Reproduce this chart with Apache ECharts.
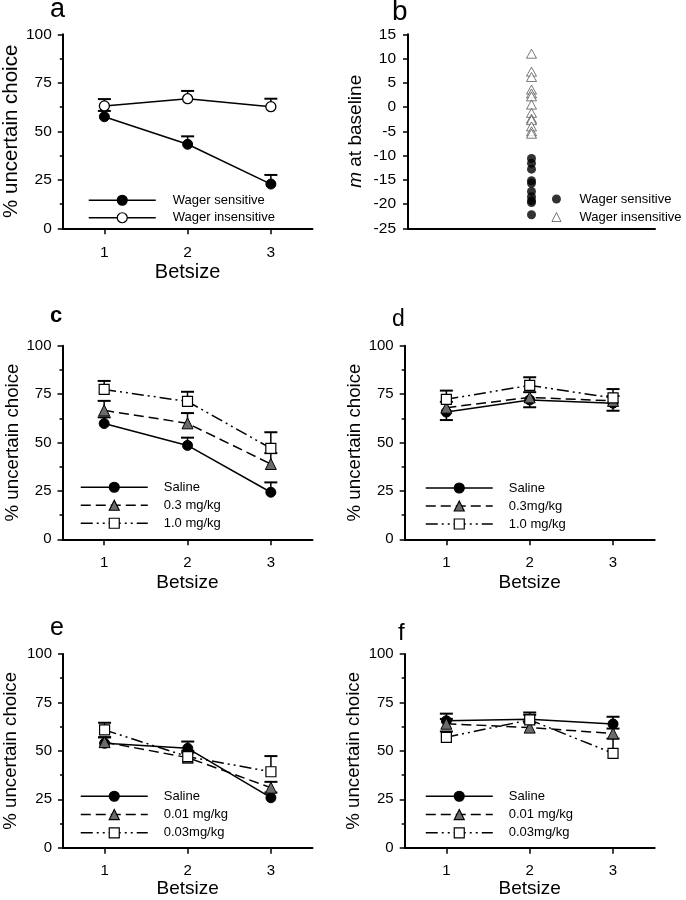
<!DOCTYPE html>
<html><head><meta charset="utf-8">
<script src="https://cdn.jsdelivr.net/npm/echarts@6/dist/echarts.min.js"></script>
<style>html,body{margin:0;padding:0;background:#fff}#c{width:686px;height:900px}</style>
</head><body><div id="c"></div>
<script>
const FONT = '"Liberation Sans", Arial, sans-serif';
const betsizes = ['1', '2', '3'];

// Panel a
const aSensitive = [57.5, 43.3, 22.8];
const aSensitiveErr = [60.5, 47.4, 27.5];
const aInsensitive = [63.1, 66.8, 62.7];
const aInsensitiveErr = [66.6, 70.8, 66.8];

// Panel b (m at baseline)
const bInsensitive = [11.0, 7.3, 6.2, 3.6, 2.8, 2.2, 0.5, -1.2, -2.4, -2.7, -4.0, -5.0, -5.5];
const bSensitive = [-10.6, -11.6, -12.8, -15.2, -15.7, -17.4, -18.5, -19.3, -19.7, -22.2];

// Panel c
const cSaline = [59.8, 48.5, 24.3];
const cSalineErr = [63.0, 52.5, 29.4];
const cLow = [66.6, 59.9, 38.9];
const cLowErr = [71.5, 65.2, 44.5];
const cHigh = [77.4, 71.2, 47.0];
const cHighErr = [81.8, 76.2, 55.3];

// Panel d
const dSaline = [65.7, 72.0, 70.3];
const dSalineErr = [61.6, 68.2, 66.4];
const dLow = [68.0, 73.3, 71.5];
const dLowErr = [71.0, 76.0, 74.0];
const dHigh = [72.3, 79.5, 73.0];
const dHighErr = [76.8, 83.7, 77.6];

// Panel e
const eSaline = [53.9, 51.3, 25.8];
const eSalineErr = [57.0, 54.8, 28.5];
const eLow = [54.5, 46.5, 31.0];
const eLowErr = [57.0, 49.0, 34.0];
const eHigh = [60.8, 47.0, 39.2];
const eHighErr = [64.5, 50.0, 47.3];

// Panel f
const fSaline = [65.5, 66.3, 63.9];
const fSalineErr = [69.2, 69.8, 67.6];
const fLow = [64.0, 62.0, 59.0];
const fLowErr = [66.5, 64.5, 61.5];
const fHigh = [57.0, 66.0, 48.7];
const fHighErr = [60.0, 68.6, 56.3];

const legendC = ['Saline', '0.3 mg/kg', '1.0 mg/kg'];
const legendD = ['Saline', '0.3mg/kg', '1.0 mg/kg'];
const legendE = ['Saline', '0.01 mg/kg', '0.03mg/kg'];
const legendF = ['Saline', '0.01 mg/kg', '0.03mg/kg'];

const grids = [
  {left: 62.5, top: 34.3, width: 250, height: 194},
  {left: 408, top: 34.3, width: 247, height: 194},
  {left: 62.5, top: 345.7, width: 250, height: 193.6},
  {left: 404.7, top: 345.7, width: 250, height: 193.6},
  {left: 62.5, top: 654, width: 250, height: 193.7},
  {left: 404.7, top: 654, width: 250, height: 193.7}
];

const black = '#000';
function yAx(gi, fs, nameFs, gap) {
  return {
    gridIndex: gi, type: 'value', min: 0, max: 100, interval: 25,
    name: '% uncertain choice', nameLocation: 'middle', nameGap: gap,
    nameTextStyle: {fontSize: nameFs, color: black, fontFamily: FONT},
    axisLine: {show: true, lineStyle: {color: black, width: 2}},
    axisTick: {show: true, length: 5, lineStyle: {color: black, width: 1.5}},
    minorTick: {show: true, splitNumber: 2, length: 3, lineStyle: {color: black, width: 1.5}},
    splitLine: {show: false},
    axisLabel: {fontSize: fs, color: black, margin: 11, fontFamily: FONT}
  };
}
function xAx(gi, fs, nameFs, gap) {
  return {
    gridIndex: gi, type: 'category', data: betsizes, boundaryGap: true,
    name: 'Betsize', nameLocation: 'middle', nameGap: gap,
    nameTextStyle: {fontSize: nameFs, color: black, fontFamily: FONT},
    axisLine: {show: true, onZero: false, lineStyle: {color: black, width: 2}},
    axisTick: {show: true, alignWithLabel: true, length: 6, lineStyle: {color: black, width: 1.5}},
    splitLine: {show: false},
    axisLabel: {fontSize: fs, color: black, margin: 16, fontFamily: FONT}
  };
}

const xAxes = [
  xAx(0, 15.5, 20, 34),
  {gridIndex: 1, type: 'category', data: [''], boundaryGap: true,
   axisLine: {show: true, onZero: false, lineStyle: {color: black, width: 2}},
   axisTick: {show: false}, axisLabel: {show: false}, splitLine: {show: false}},
  xAx(2, 15, 19, 34),
  xAx(3, 15, 19, 34),
  xAx(4, 15, 19, 29),
  xAx(5, 15, 19, 29)
];
const yAxes = [
  yAx(0, 15.5, 20.5, 38),
  {gridIndex: 1, type: 'value', min: -25, max: 15, interval: 5,
   name: '{i|m} at baseline', nameLocation: 'middle', nameGap: 43,
   nameTextStyle: {fontSize: 19, color: black, fontFamily: FONT,
     rich: {i: {fontStyle: 'italic', fontSize: 19, color: black, fontFamily: FONT}}},
   axisLine: {show: true, lineStyle: {color: black, width: 2}},
   axisTick: {show: true, length: 5, lineStyle: {color: black, width: 1.5}},
   splitLine: {show: false},
   axisLabel: {fontSize: 15.5, color: black, margin: 12, fontFamily: FONT}},
  yAx(2, 15, 18.7, 39),
  yAx(3, 15, 18.7, 38),
  yAx(4, 15, 18.7, 43),
  yAx(5, 15, 18.7, 41)
];

const STY = {
  saline: {symbol: 'circle', symbolSize: 10, itemStyle: {color: black, borderColor: black, borderWidth: 1}, lineStyle: {color: black, width: 1.5, type: 'solid'}},
  open: {symbol: 'circle', symbolSize: 10, itemStyle: {color: '#fff', borderColor: black, borderWidth: 1.3}, lineStyle: {color: black, width: 1.5, type: 'solid'}},
  low: {symbol: 'triangle', symbolSize: 11, itemStyle: {color: '#6b6b6b', borderColor: black, borderWidth: 1}, lineStyle: {color: black, width: 1.5, type: [10, 5]}},
  high: {symbol: 'rect', symbolSize: 10, itemStyle: {color: '#fff', borderColor: black, borderWidth: 1.2}, lineStyle: {color: black, width: 1.5, type: [12, 4, 2, 4, 2, 4]}}
};

function lineS(name, gi, data, kind) {
  const s = STY[kind];
  return Object.assign({type: 'line', name, xAxisIndex: gi, yAxisIndex: gi, data, z: 3,
    showSymbol: true, emphasis: {disabled: true}, silent: true}, JSON.parse(JSON.stringify(s)));
}
function errS(gi, centers, ends) {
  return {
    type: 'custom', name: 'err', xAxisIndex: gi, yAxisIndex: gi, z: 2, silent: true,
    data: centers.map((c, i) => [i, c, ends[i]]),
    encode: {x: 0, y: [1, 2]},
    renderItem: function (params, api) {
      const p0 = api.coord([api.value(0), api.value(1)]);
      const p1 = api.coord([api.value(0), api.value(2)]);
      const hw = 6.5;
      return {type: 'group', children: [
        {type: 'line', shape: {x1: p0[0], y1: p0[1], x2: p1[0], y2: p1[1]}, style: {stroke: black, lineWidth: 1.5}},
        {type: 'line', shape: {x1: p1[0] - hw, y1: p1[1], x2: p1[0] + hw, y2: p1[1]}, style: {stroke: black, lineWidth: 2}}
      ]};
    }
  };
}

const series = [
  errS(0, aSensitive, aSensitiveErr), errS(0, aInsensitive, aInsensitiveErr),
  lineS('Wager sensitive', 0, aSensitive, 'saline'),
  lineS('Wager insensitive', 0, aInsensitive, 'open'),
  {type: 'scatter', name: 'b:Wager sensitive', xAxisIndex: 1, yAxisIndex: 1, symbol: 'circle', symbolSize: 9,
   itemStyle: {color: black}, data: bSensitive.map(v => [0, v]), silent: true, z: 3},
  {type: 'scatter', name: 'b:Wager insensitive', xAxisIndex: 1, yAxisIndex: 1, symbol: 'triangle', symbolSize: [10, 9],
   itemStyle: {color: '#fff', borderColor: '#444', borderWidth: 0.9}, data: bInsensitive.map(v => [0, v]), silent: true, z: 3},

  errS(2, cSaline, cSalineErr), errS(2, cLow, cLowErr), errS(2, cHigh, cHighErr),
  lineS(legendC[0], 2, cSaline, 'saline'), lineS(legendC[1], 2, cLow, 'low'), lineS(legendC[2], 2, cHigh, 'high'),

  errS(3, dSaline, dSalineErr), errS(3, dLow, dLowErr), errS(3, dHigh, dHighErr),
  lineS(legendD[0], 3, dSaline, 'saline'), lineS(legendD[1], 3, dLow, 'low'), lineS(legendD[2], 3, dHigh, 'high'),

  errS(4, eSaline, eSalineErr), errS(4, eLow, eLowErr), errS(4, eHigh, eHighErr),
  lineS(legendE[0], 4, eSaline, 'saline'), lineS(legendE[1], 4, eLow, 'low'), lineS(legendE[2], 4, eHigh, 'high'),

  errS(5, fSaline, fSalineErr), errS(5, fLow, fLowErr), errS(5, fHigh, fHighErr),
  lineS(legendF[0], 5, fSaline, 'saline'), lineS(legendF[1], 5, fLow, 'low'), lineS(legendF[2], 5, fHigh, 'high')
];

function leg(data, left, top, gap, textPad) {
  return {
    data, orient: 'vertical', left, top, itemWidth: 67, itemHeight: 12.5, itemGap: gap, padding: 0,
    selectedMode: false,
    lineStyle: {width: 1.5},
    itemStyle: {borderWidth: 1.2},
    textStyle: {fontSize: 13, color: black, fontFamily: FONT, lineHeight: 12.5, padding: [0, 0, 0, textPad]}
  };
}
const legends = [
  leg(['Wager sensitive', 'Wager insensitive'], 88, 193.75, 4.5, 12),
  {data: ['b:Wager sensitive', 'b:Wager insensitive'], orient: 'vertical', left: 551.5, top: 192.5,
   itemWidth: 9, itemHeight: 9, itemGap: 5, padding: 0, selectedMode: false,
   itemStyle: {borderWidth: 0.9},
   formatter: n => n.slice(2),
   textStyle: {fontSize: 13, color: black, fontFamily: FONT, lineHeight: 13, padding: [0, 0, 0, 13.5]}},
  leg(legendC, 80, 480.75, 5, 11),
  leg(legendD, 425, 481.5, 5, 11),
  leg(legendE, 80, 789.75, 5.3, 11),
  leg(legendF, 425, 789.75, 5.3, 11)
];

function label(t, x, baseline, fs, bold) {
  return {type: 'text', x: x, y: baseline - 0.3465 * fs, silent: true,
    style: {text: t, fill: black, font: (bold ? 'bold ' : '') + fs + 'px ' + FONT, textAlign: 'left', textVerticalAlign: 'middle'}};
}

const chart = echarts.init(document.getElementById('c'), null, {renderer: 'canvas'});
chart.setOption({
  animation: false,
  backgroundColor: '#fff',
  textStyle: {fontFamily: FONT},
  grid: grids,
  xAxis: xAxes,
  yAxis: yAxes,
  legend: legends,
  series: series,
  graphic: [
    label('a', 50, 19, 27, false),
    label('b', 392, 22, 28, false),
    label('c', 50, 323.3, 22, true),
    label('d', 392, 328, 23, false),
    label('e', 50, 636.7, 25, false),
    label('f', 398, 641.7, 24, false)
  ]
});
</script>
</body></html>
